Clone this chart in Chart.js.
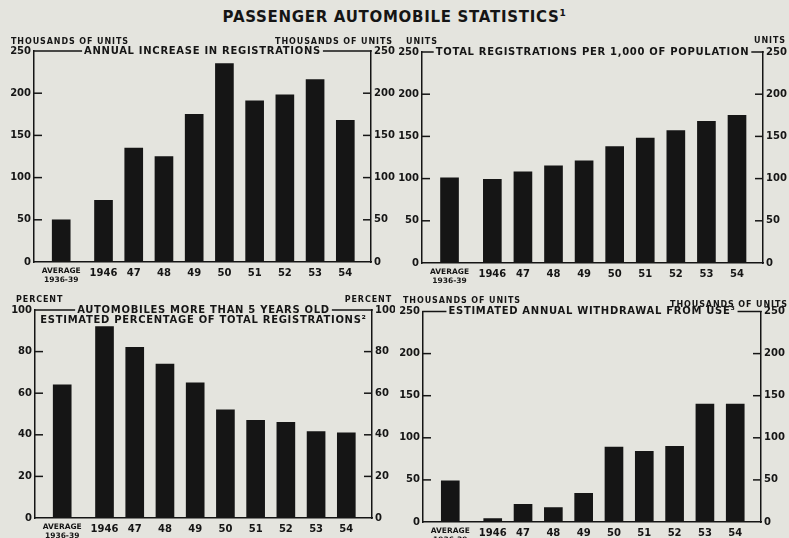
<!DOCTYPE html>
<html>
<head>
<meta charset="utf-8">
<script src="https://cdn.jsdelivr.net/npm/chart.js@4/dist/chart.umd.min.js"></script>
<style>
  html, body { margin: 0; padding: 0; background: #e4e4de; }
  #page { position: relative; width: 789px; height: 538px; overflow: hidden; background: #e4e4de; }
  h1 {
    position: absolute; top: 9px; left: 0; width: 789px; margin: 0;
    text-align: center; font: bold 15px/17px "DejaVu Sans", sans-serif;
    letter-spacing: 0.7px; color: #151515;
  }
  h1 sup { font-size: 9px; line-height: 0; vertical-align: 6px; }
  canvas { position: absolute; }
</style>
</head>
<body>
<div id="page">
  <h1>PASSENGER AUTOMOBILE STATISTICS<sup>1</sup></h1>
  <canvas id="c1"></canvas>
  <canvas id="c2"></canvas>
  <canvas id="c3"></canvas>
  <canvas id="c4"></canvas>
</div>
<script>
const categories = [['AVERAGE', '1936-39'], '1946', '47', '48', '49', '50', '51', '52', '53', '54'];

// thousands of units
const annualIncrease = [50, 73, 135, 125, 175, 235, 191, 198, 216, 168];
// cars per 1,000 of population
const perThousandPop = [101, 99, 108, 115, 121, 138, 148, 157, 168, 175];
// percent of registrations older than 5 years
const pctOverFiveYears = [64, 92, 82, 74, 65, 52, 47, 46, 41.5, 41];
// thousands of units scrapped
const annualWithdrawal = [49, 4, 21, 17, 34, 89, 84, 90, 140, 140];

const ink = '#151515';
const fam = '"DejaVu Sans", sans-serif';

// the prewar average stands a little apart from the postwar years
const slotOf = i => (i === 0 ? 0 : i + 0.4);

const panels = [
  { canvas: 'c1', box: [0, 32, 395, 252], plot: [34, 51, 371, 262], max: 250, step: 50,
    values: annualIncrease, title: ['ANNUAL INCREASE IN REGISTRATIONS'],
    units: ['THOUSANDS OF UNITS', 'THOUSANDS OF UNITS'], unitAt: [[11, 10], [393, 10]] },
  { canvas: 'c2', box: [395, 32, 394, 252], plot: [422, 52, 763, 263], max: 250, step: 50,
    values: perThousandPop, title: ['TOTAL REGISTRATIONS PER 1,000 OF POPULATION'],
    units: ['UNITS', 'UNITS'], unitAt: [[11, 10], [391, 9]] },
  { canvas: 'c3', box: [0, 290, 395, 248], plot: [35, 310, 372, 518], max: 100, step: 20,
    values: pctOverFiveYears,
    title: ['AUTOMOBILES MORE THAN 5 YEARS OLD', 'ESTIMATED PERCENTAGE OF TOTAL REGISTRATIONS\u00B2'],
    units: ['PERCENT', 'PERCENT'], unitAt: [[16, 10], [392, 10]] },
  { canvas: 'c4', box: [395, 290, 394, 248], plot: [423, 311.5, 761, 522], max: 250, step: 50,
    values: annualWithdrawal, title: ['ESTIMATED ANNUAL WITHDRAWAL FROM USE\u00B3'],
    units: ['THOUSANDS OF UNITS', 'THOUSANDS OF UNITS'], unitAt: [[8, 11], [393, 15]] }
];

// top rule broken by the heading, inward tick marks, unit captions
const framePlugin = {
  id: 'frame',
  afterDraw(chart, args, opts) {
    const { ctx, chartArea: a, scales } = chart;
    ctx.save();
    ctx.strokeStyle = ink;
    ctx.fillStyle = ink;
    ctx.lineWidth = 1.5;

    for (const [id, dir] of [['y', 1], ['y2', -1]]) {
      const s = scales[id];
      const x0 = dir > 0 ? a.left : a.right;
      s.ticks.forEach((t, i) => {
        if (i === 0 || i === s.ticks.length - 1) return;
        const y = s.getPixelForValue(t.value);
        ctx.beginPath();
        ctx.moveTo(x0, y);
        ctx.lineTo(x0 + dir * 8, y);
        ctx.stroke();
      });
    }

    ctx.font = 'bold 10px ' + fam;
    ctx.letterSpacing = '0.7px';
    ctx.textAlign = 'center';
    ctx.textBaseline = 'middle';
    const cx = (a.left + a.right) / 2;
    const [head, sub] = opts.title;
    const w = ctx.measureText(head).width;
    ctx.fillText(head, cx, a.top);
    ctx.beginPath();
    ctx.moveTo(a.left - 0.75, a.top);
    ctx.lineTo(cx - w / 2 - 2, a.top);
    ctx.moveTo(cx + w / 2 + 2, a.top);
    ctx.lineTo(a.right + 0.75, a.top);
    ctx.stroke();
    if (sub) ctx.fillText(sub, cx, a.top + 10);

    ctx.font = 'bold 8px ' + fam;
    ctx.letterSpacing = '0.9px';
    ctx.textAlign = 'left';
    ctx.fillText(opts.units[0], opts.unitAt[0][0], opts.unitAt[0][1]);
    ctx.textAlign = 'right';
    ctx.fillText(opts.units[1], opts.unitAt[1][0], opts.unitAt[1][1]);
    ctx.restore();
  }
};

panels.forEach(p => {
  const cv = document.getElementById(p.canvas);
  const [bx, by, bw, bh] = p.box;
  const [pl, pt, pr, pb] = p.plot;
  cv.width = bw;
  cv.height = bh;
  cv.style.left = bx + 'px';
  cv.style.top = by + 'px';

  const valueAxis = side => ({
    position: side,
    min: 0,
    max: p.max,
    ticks: { stepSize: p.step, padding: 3, color: ink, font: { family: fam, weight: 'bold', size: 10 } },
    grid: { display: false, drawTicks: false },
    border: { color: ink, width: 1.5 },
    afterFit: s => { s.width = side === 'left' ? pl - bx : bx + bw - pr; }
  });

  new Chart(cv, {
    type: 'bar',
    data: {
      datasets: [{
        data: p.values.map((v, i) => ({ x: slotOf(i), y: v })),
        backgroundColor: ink,
        barThickness: 18
      }]
    },
    options: {
      responsive: false,
      animation: false,
      devicePixelRatio: 1,
      layout: { padding: { top: pt - by, left: 0, right: 0, bottom: 0 } },
      plugins: {
        legend: { display: false },
        tooltip: { enabled: false },
        frame: { title: p.title, units: p.units, unitAt: p.unitAt }
      },
      scales: {
        x: {
          type: 'linear',
          offset: false,
          min: -0.9,
          max: 10.25,
          afterBuildTicks: s => { s.ticks = categories.map((c, i) => ({ value: slotOf(i) })); },
          ticks: {
            autoSkip: false,
            maxRotation: 0,
            padding: 5,
            color: ink,
            callback: (v, i) => categories[i],
            font: c => c.index === 0
              ? { family: fam, weight: 'bold', size: 7.5, lineHeight: 1.15 }
              : { family: fam, weight: 'bold', size: 10 }
          },
          grid: { display: false, drawTicks: false },
          border: { color: ink, width: 1.5 },
          afterFit: s => { s.height = by + bh - pb; }
        },
        y: valueAxis('left'),
        y2: valueAxis('right')
      }
    },
    plugins: [framePlugin]
  });
});
</script>
</body>
</html>
